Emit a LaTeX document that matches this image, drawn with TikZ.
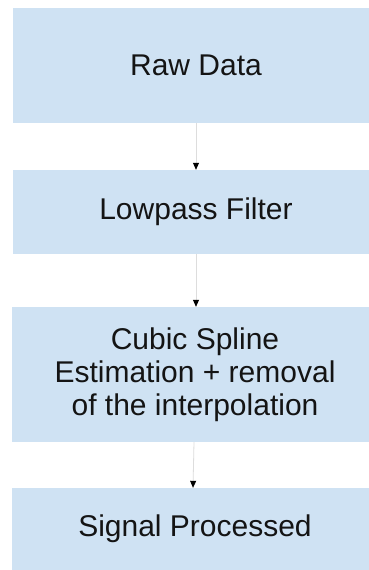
\documentclass[tikz,border=0pt]{standalone}
\usepackage{fontspec}
\setmainfont{Liberation Sans}
\usetikzlibrary{arrows.meta}
\definecolor{boxblue}{HTML}{CFE2F3}
\definecolor{linegray}{HTML}{DDDDDD}
\tikzset{
  stepbox/.style={fill=boxblue, draw=none, minimum width=366pt, inner sep=0pt,
    align=center, font=\fontsize{30}{33}\selectfont, text=black!92},
  flow/.style={draw=linegray, line width=0.8pt,
    -{Triangle[color=black, length=7pt, width=6pt]}}
}
\begin{document}
\begin{tikzpicture}[x=1pt, y=-1pt]
  \useasboundingbox (0,0) rectangle (369,570);
  \clip (0,0) rectangle (369,570);
  \fill[white] (0,0) rectangle (369,570);
  \node[stepbox, minimum height=115pt] (raw) at (196,65.5) {Raw Data};
  \node[stepbox, minimum height=84pt] (low) at (196,212) {Lowpass Filter};
  \node[stepbox, minimum height=135pt] (spline) at (195,374.5) {Cubic Spline\\Estimation + removal\\of the interpolation};
  \node[stepbox, minimum height=82pt] (sig) at (195,529) {Signal Processed};
  \draw[flow] (raw.south) -- (raw.south |- low.north);
  \draw[flow] (low.south) -- (low.south |- spline.north);
  \draw[flow] ([xshift=-1pt]spline.south) -- ([xshift=-2pt]sig.north);
\end{tikzpicture}
\end{document}
